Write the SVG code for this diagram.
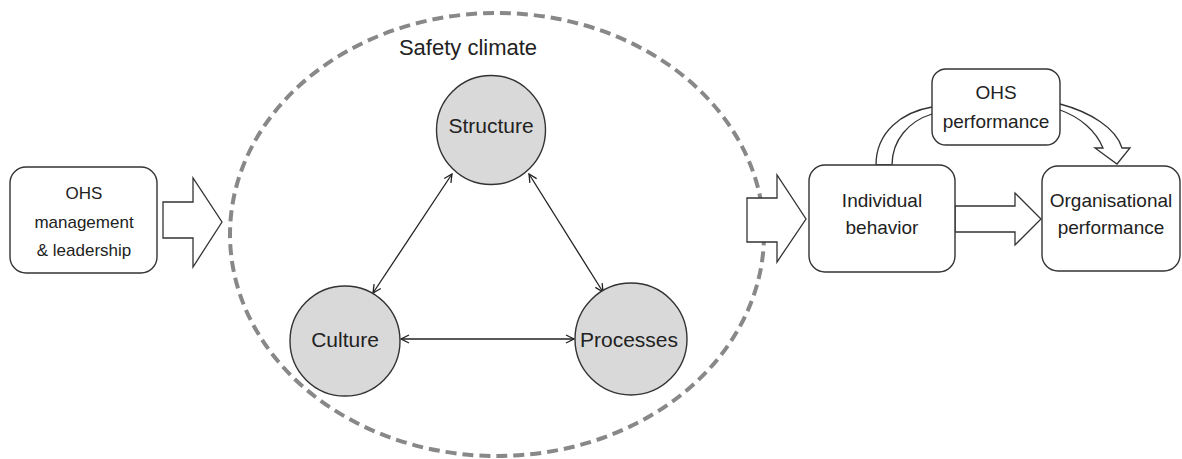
<svg xmlns="http://www.w3.org/2000/svg" width="1182" height="459" viewBox="0 0 1182 459">
  <style>
    .box { fill: #ffffff; stroke: #333333; stroke-width: 1.4; }
    .blk { fill: #ffffff; stroke: #333333; stroke-width: 1.3; stroke-linejoin: miter; }
    .circ { fill: #d9d9d9; stroke: #333333; stroke-width: 1.4; }
    .lbl { font-family: "Liberation Sans", Arial, sans-serif; fill: #222222; text-anchor: middle; }
    .link { stroke: #222222; stroke-width: 1.3; fill: none; marker-start: url(#open); marker-end: url(#open); }
  </style>
  <defs>
    <marker id="open" viewBox="0 0 10 10" refX="9" refY="5" markerWidth="10" markerHeight="10" markerUnits="userSpaceOnUse" orient="auto-start-reverse">
      <path d="M1,1 L9,5 L1,9" fill="none" stroke="#222222" stroke-width="1.3"/>
    </marker>
  </defs>

  <!-- Safety climate boundary -->
  <g id="safety-climate">
    <ellipse cx="497" cy="234.5" rx="267" ry="221.5" fill="none" stroke="#888888" stroke-width="4" stroke-dasharray="11 6"/>
    <text class="lbl" x="468" y="55" font-size="22">Safety climate</text>
  </g>

  <!-- Block arrows and links -->
  <g id="connectors">
    <polygon class="blk" points="163,202 193,202 193,178 222,222 193,267 193,238 163,238"/>
    <polygon class="blk" points="747,198 777,198 777,175 806,219 777,262 777,242 747,242"/>
    <polygon class="blk" points="955,206 1015,206 1015,193 1041,219 1015,245 1015,232 955,232"/>
    <path class="blk" d="M876,165 C876,132 902,112 932,107 L1060,104 C1090,112 1116,128 1122,148 L1130,148 L1117,164 L1095,148 L1103,148 C1096,131 1080,117 1060,110 L932,114 C909,121 892,140 892,165 Z"/>
    <line class="link" x1="452" y1="174" x2="373" y2="293"/>
    <line class="link" x1="529" y1="174" x2="603" y2="292"/>
    <line class="link" x1="401" y1="339" x2="574" y2="339"/>
  </g>

  <g id="ohs-management">
    <rect class="box" x="10" y="167" width="147" height="106" rx="16"/>
    <text class="lbl" font-size="17"><tspan x="84" y="199">OHS</tspan><tspan x="84" y="228">management</tspan><tspan x="84" y="256">&amp; leadership</tspan></text>
  </g>

  <g id="structure">
    <circle class="circ" cx="491" cy="130" r="54.5"/>
    <text class="lbl" x="491" y="133" font-size="21">Structure</text>
  </g>

  <g id="culture">
    <circle class="circ" cx="345" cy="341" r="55"/>
    <text class="lbl" x="345" y="347" font-size="21">Culture</text>
  </g>

  <g id="processes">
    <circle class="circ" cx="631" cy="339" r="56"/>
    <text class="lbl" x="629" y="347" font-size="21">Processes</text>
  </g>

  <g id="individual-behavior">
    <rect class="box" x="809" y="165" width="146" height="107" rx="16"/>
    <text class="lbl" font-size="19"><tspan x="882" y="207">Individual</tspan><tspan x="882" y="234">behavior</tspan></text>
  </g>

  <g id="ohs-performance">
    <rect class="box" x="932" y="69" width="128" height="76" rx="14"/>
    <text class="lbl" font-size="19"><tspan x="996" y="99">OHS</tspan><tspan x="996" y="128">performance</tspan></text>
  </g>

  <g id="organisational-performance">
    <rect class="box" x="1042" y="166" width="138" height="105" rx="16"/>
    <text class="lbl" font-size="19"><tspan x="1111" y="207">Organisational</tspan><tspan x="1111" y="234">performance</tspan></text>
  </g>
</svg>
